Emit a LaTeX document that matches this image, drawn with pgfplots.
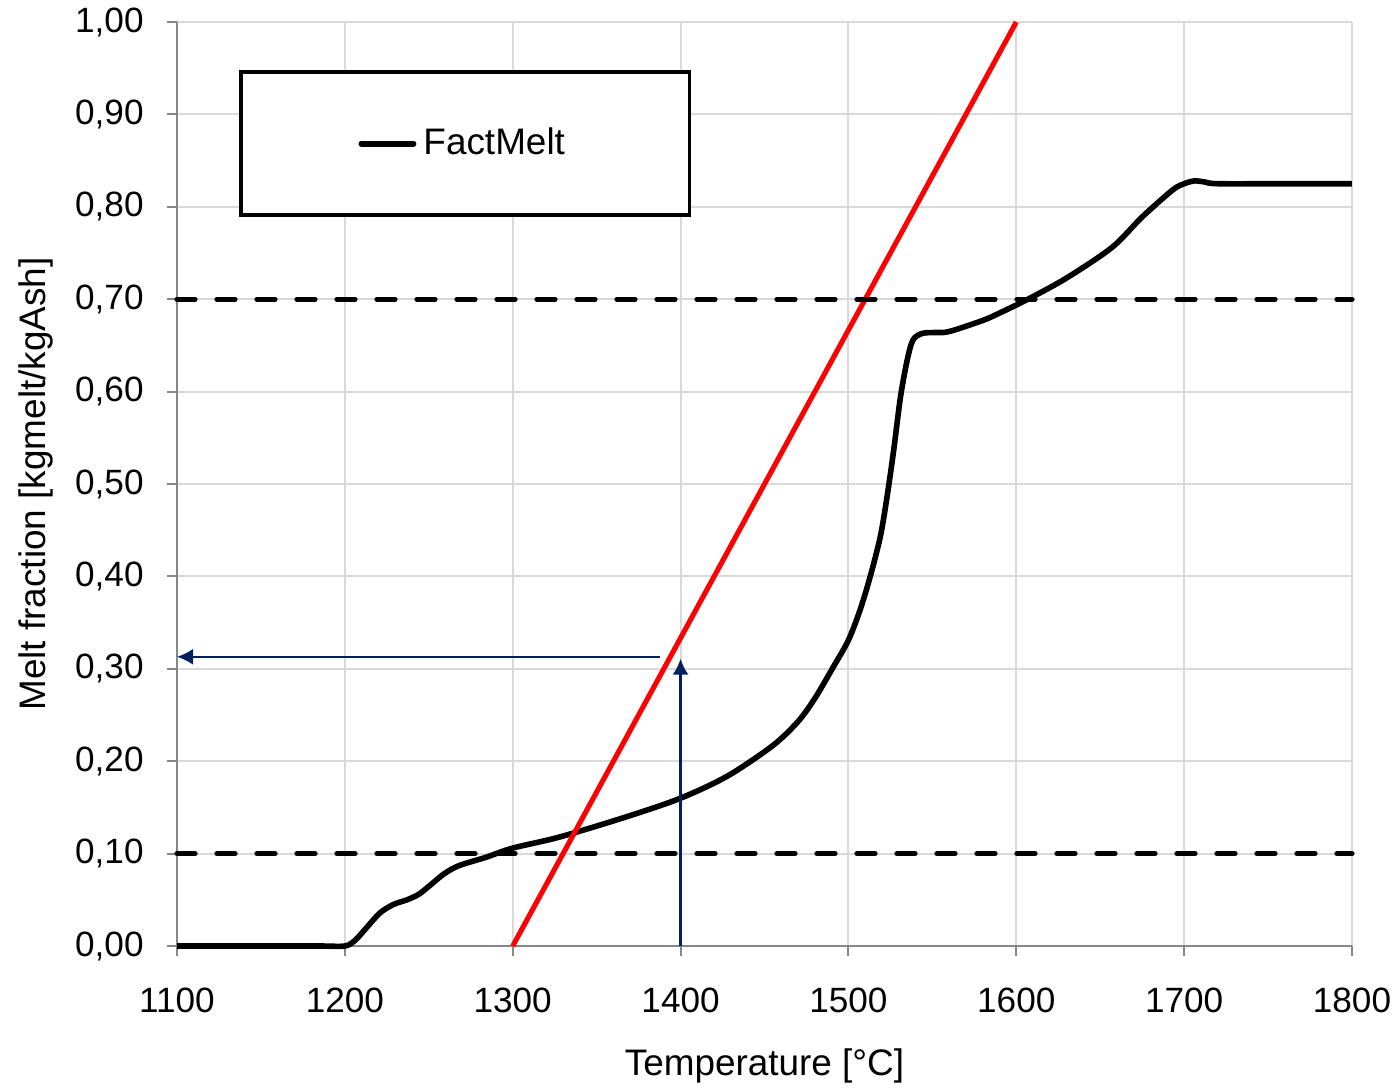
\documentclass[border=0pt]{standalone}
\usepackage{fontspec}
\setmainfont{Liberation Sans}
\usepackage{pgfplots}
\pgfplotsset{compat=1.18}
\usetikzlibrary{arrows.meta}
\definecolor{navy}{RGB}{0,32,96}
\definecolor{gridgray}{RGB}{217,217,217}
\definecolor{axgray}{RGB}{134,134,134}
\begin{document}
\begin{tikzpicture}
\begin{axis}[
  at={(17.7mm,14.1mm)}, anchor=south west,
  scale only axis, width=117.5mm, height=92.4mm,
  xmin=1100, xmax=1800, ymin=0, ymax=1,
  clip=false,
  xtick={1100,1200,1300,1400,1500,1600,1700,1800},
  ytick={0,0.1,0.2,0.3,0.4,0.5,0.6,0.7,0.8,0.9,1},
  axis lines=left, axis line style={-, axgray, line width=0.6pt},
  tick align=outside, major tick length=1mm,
  tick style={axgray, line width=0.6pt},
  grid=major, major grid style={gridgray, line width=0.6pt},
  /pgf/number format/assume math mode=true,
  x tick label style={/pgf/number format/1000 sep={}, font=\fontsize{10}{12}\selectfont, yshift=-2mm},
  y tick label style={/pgf/number format/.cd, fixed, fixed zerofill, precision=2, use comma, /tikz/.cd, font=\fontsize{10}{12}\selectfont, xshift=-1.1mm},
  xlabel={Temperature [°C]},
  ylabel={Melt fraction [kgmelt/kgAsh]},
  xlabel style={at={(axis description cs:0.5,-0.1396)}, anchor=base, font=\fontsize{10.5}{12}\selectfont},
  ylabel style={at={(axis description cs:-0.1123,0.5)}, anchor=base, rotate=0, font=\fontsize{10.5}{12}\selectfont},
  legend style={at={(rel axis cs:0.0528,0.948)}, anchor=north west, draw=black, line width=1.1pt,
    inner xsep=11.75mm, inner ysep=4.85mm, font=\fontsize{10.5}{12}\selectfont},
  legend image code/.code={\draw[#1, line width=1.7pt, line cap=round] (0.3mm,0mm) -- (5.5mm,0mm);},
]
\addplot[black, line width=1.6pt, smooth, line join=round] coordinates {
(1100,0) (1150,0) (1185,0) (1200,0.000) (1206,0.006) (1213,0.020) (1221,0.036)
(1229,0.045) (1237,0.050) (1244,0.056) (1251,0.066) (1259,0.078) (1268,0.087)
(1284,0.096) (1300,0.106) (1328,0.118) (1368,0.140) (1400,0.160) (1428,0.184)
(1455,0.217) (1470,0.243) (1480,0.268) (1491,0.302) (1500,0.331) (1507,0.364)
(1513,0.400) (1519,0.443) (1523,0.486) (1527,0.537) (1531,0.594) (1535,0.634)
(1538.5,0.656) (1544,0.663) (1552,0.664) (1560,0.665) (1580,0.677) (1590,0.685)
(1608,0.701) (1630,0.723) (1657,0.756) (1675,0.789) (1693,0.818) (1700,0.825)
(1706,0.828) (1712,0.827) (1720,0.825) (1760,0.825) (1800,0.825)
};
\addlegendentry{FactMelt}
\addplot[red, line width=1.45pt, forget plot] coordinates {(1300,0) (1600,1)};
\addplot[black, line width=1.5pt, dash pattern=on 1.8mm off 2.2mm, line cap=round, forget plot]
  coordinates {(1100,0.1) (1800,0.1)};
\addplot[black, line width=1.5pt, dash pattern=on 1.8mm off 2.2mm, line cap=round, forget plot]
  coordinates {(1100,0.7) (1800,0.7)};
\addplot[navy, line width=0.65pt, -{Latex[length=1.6mm,width=1.6mm]}, forget plot]
  coordinates {(1387.5,0.313) (1100,0.313)};
\addplot[navy, line width=0.65pt, -{Latex[length=1.6mm,width=1.6mm]}, forget plot]
  coordinates {(1400,0) (1400,0.311)};
\end{axis}
\pgfresetboundingbox
\useasboundingbox (0,0) rectangle (139.8mm,108.7mm);
\end{tikzpicture}
\end{document}
